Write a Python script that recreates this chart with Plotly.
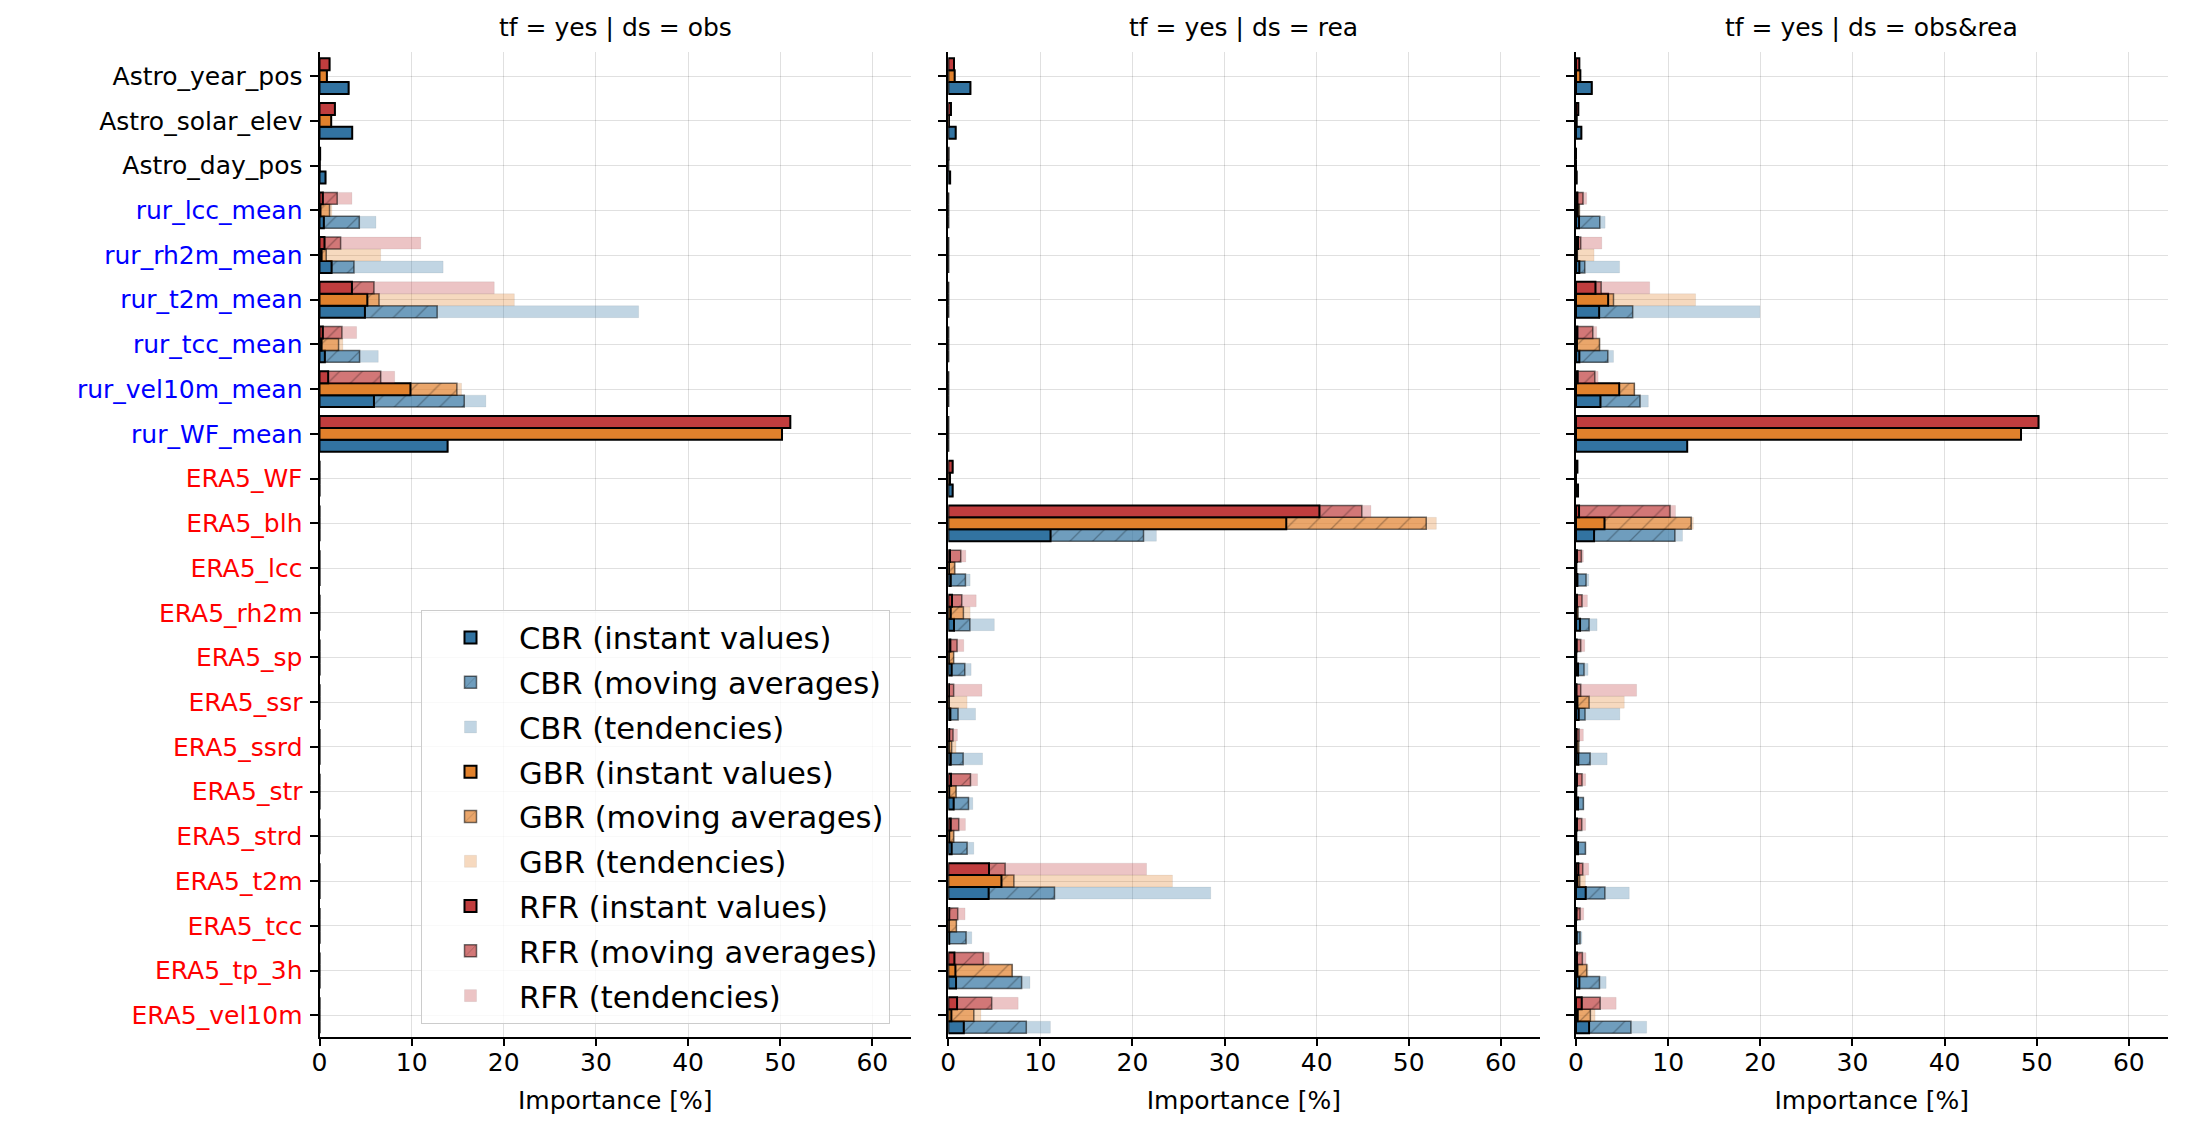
import numpy as np
import plotly.graph_objects as go

# feature names, top to bottom
features = ["Astro_year_pos", "Astro_solar_elev", "Astro_day_pos",
            "rur_lcc_mean", "rur_rh2m_mean", "rur_t2m_mean", "rur_tcc_mean",
            "rur_vel10m_mean", "rur_WF_mean",
            "ERA5_WF", "ERA5_blh", "ERA5_lcc", "ERA5_rh2m", "ERA5_sp", "ERA5_ssr",
            "ERA5_ssrd", "ERA5_str", "ERA5_strd", "ERA5_t2m", "ERA5_tcc",
            "ERA5_tp_3h", "ERA5_vel10m"]
label_colors = ["black"] * 3 + ["#0000ff"] * 6 + ["#ff0000"] * 13

panel_titles = ["tf = yes | ds = obs", "tf = yes | ds = rea", "tf = yes | ds = obs&rea"]
models = ["CBR", "GBR", "RFR"]
parts = ["instant values", "moving averages", "tendencies"]

# importance [%] per part  --- ds = obs
cbr_inst_obs = [3.16, 3.55, 0.65, 0.47, 1.31, 4.93, 0.58, 5.91, 13.9, 0, 0, 0, 0, 0, 0, 0, 0, 0, 0, 0, 0, 0]
cbr_ma_obs = [0, 0, 0, 3.85, 2.43, 7.84, 3.77, 9.8, 0, 0, 0, 0, 0, 0, 0, 0, 0, 0, 0, 0, 0, 0]
cbr_tend_obs = [0, 0, 0, 1.81, 9.68, 21.87, 2.03, 2.35, 0, 0, 0, 0, 0, 0, 0, 0, 0, 0, 0, 0, 0, 0]
gbr_inst_obs = [0.8, 1.27, 0.03, 0.1, 0.22, 5.19, 0.22, 9.87, 50.2, 0, 0, 0, 0, 0, 0, 0, 0, 0, 0, 0, 0, 0]
gbr_ma_obs = [0, 0, 0, 0.99, 0.51, 1.27, 1.85, 5.04, 0, 0, 0, 0, 0, 0, 0, 0, 0, 0, 0, 0, 0, 0]
gbr_tend_obs = [0, 0, 0, 0.25, 5.91, 14.69, 0.47, 0.51, 0, 0, 0, 0, 0, 0, 0, 0, 0, 0, 0, 0, 0, 0]
rfr_inst_obs = [1.09, 1.67, 0.07, 0.36, 0.54, 3.52, 0.36, 0.94, 51.1, 0, 0, 0, 0, 0, 0, 0, 0, 0, 0, 0, 0, 0]
rfr_ma_obs = [0, 0, 0, 1.56, 1.75, 2.39, 2.07, 5.7, 0, 0, 0, 0, 0, 0, 0, 0, 0, 0, 0, 0, 0, 0]
rfr_tend_obs = [0, 0, 0, 1.6, 8.7, 13.06, 1.6, 1.52, 0, 0, 0, 0, 0, 0, 0, 0, 0, 0, 0, 0, 0, 0]

# ds = rea
cbr_inst_rea = [2.4, 0.8, 0.2, 0, 0, 0, 0, 0, 0, 0.47, 11.1, 0.26, 0.62, 0.36, 0.22, 0.26, 0.58, 0.36, 4.38, 0.1, 0.84, 1.68]
cbr_ma_rea = [0, 0, 0, 0, 0, 0, 0, 0, 0, 0, 10.1, 1.6, 1.72, 1.43, 0.84, 1.35, 1.61, 1.68, 7.15, 1.83, 7.12, 6.79]
cbr_tend_rea = [0, 0, 0, 0, 0, 0, 0, 0, 0, 0, 1.4, 0.51, 2.66, 0.69, 1.9, 2.11, 0.47, 0.73, 16.97, 0.62, 0.91, 2.62]
gbr_inst_rea = [0.69, 0.07, 0, 0, 0, 0, 0, 0, 0, 0.18, 36.7, 0.07, 0.26, 0.05, 0.04, 0.04, 0.1, 0.1, 5.77, 0.05, 0.77, 0.33]
gbr_ma_rea = [0, 0, 0, 0, 0, 0, 0, 0, 0, 0, 15.2, 0.62, 1.38, 0.53, 0.06, 0.32, 0.74, 0.48, 1.35, 0.83, 6.16, 2.44]
gbr_tend_rea = [0, 0, 0, 0, 0, 0, 0, 0, 0, 0, 1.1, 0.08, 0.73, 0.04, 1.94, 0.48, 0.07, 0.08, 17.22, 0.03, 0.07, 0.77]
rfr_inst_rea = [0.62, 0.29, 0.02, 0, 0, 0, 0, 0, 0, 0.47, 40.3, 0.18, 0.4, 0.22, 0.07, 0.1, 0.29, 0.26, 4.42, 0.1, 0.66, 0.95]
rfr_ma_rea = [0, 0, 0, 0, 0, 0, 0, 0, 0, 0, 4.6, 1.17, 1.06, 0.73, 0.51, 0.41, 2.12, 0.87, 1.75, 0.92, 3.14, 3.76]
rfr_tend_rea = [0, 0, 0, 0, 0, 0, 0, 0, 0, 0, 1.0, 0.55, 1.57, 0.73, 3.07, 0.48, 0.77, 0.73, 15.36, 0.8, 0.65, 2.88]

# ds = obs&rea
cbr_inst_both = [1.71, 0.58, 0.07, 0.33, 0.36, 2.51, 0.36, 2.65, 12.07, 0.22, 1.96, 0.15, 0.44, 0.22, 0.29, 0.25, 0.22, 0.22, 1.05, 0.07, 0.36, 1.42]
cbr_ma_both = [0, 0, 0, 2.25, 0.59, 3.64, 3.09, 4.3, 0, 0, 8.77, 0.94, 0.98, 0.65, 0.69, 1.28, 0.58, 0.8, 2.08, 0.37, 2.19, 4.54]
cbr_tend_both = [0, 0, 0, 0.58, 3.78, 13.81, 0.62, 0.9, 0, 0, 0.83, 0.29, 0.87, 0.44, 3.78, 1.85, 0.07, 0.07, 2.65, 0.21, 0.72, 1.71]
gbr_inst_both = [0.47, 0.07, 0, 0.18, 0.07, 3.49, 0.1, 4.69, 48.3, 0, 3.09, 0.03, 0.05, 0.03, 0.15, 0.07, 0.03, 0.03, 0.15, 0, 0.15, 0.18]
gbr_ma_both = [0, 0, 0, 0.18, 0.08, 0.58, 2.45, 1.64, 0, 0, 9.41, 0.02, 0.17, 0, 1.27, 0.22, 0, 0, 0.25, 0, 1.01, 1.38]
gbr_tend_both = [0, 0, 0, 0.08, 1.81, 8.91, 0.07, 0.07, 0, 0, 0.23, 0, 0.04, 0, 3.82, 0.07, 0, 0, 0.62, 0, 0.15, 0.51]
rfr_inst_both = [0.36, 0.25, 0, 0.15, 0.22, 2.11, 0.15, 0.18, 50.2, 0.15, 0.33, 0.1, 0.1, 0.07, 0.05, 0.05, 0.1, 0.1, 0.25, 0.05, 0.1, 0.62]
rfr_ma_both = [0, 0, 0, 0.61, 0.29, 0.62, 1.67, 1.86, 0, 0, 9.87, 0.48, 0.55, 0.44, 0.46, 0.28, 0.55, 0.52, 0.48, 0.39, 0.59, 2.0]
rfr_tend_both = [0, 0, 0, 0.4, 2.29, 5.27, 0.43, 0.36, 0, 0, 0.6, 0.22, 0.59, 0.44, 6.07, 0.47, 0.4, 0.43, 0.65, 0.4, 0.4, 1.74]

panels = [
    {"CBR": [cbr_inst_obs, cbr_ma_obs, cbr_tend_obs],
     "GBR": [gbr_inst_obs, gbr_ma_obs, gbr_tend_obs],
     "RFR": [rfr_inst_obs, rfr_ma_obs, rfr_tend_obs]},
    {"CBR": [cbr_inst_rea, cbr_ma_rea, cbr_tend_rea],
     "GBR": [gbr_inst_rea, gbr_ma_rea, gbr_tend_rea],
     "RFR": [rfr_inst_rea, rfr_ma_rea, rfr_tend_rea]},
    {"CBR": [cbr_inst_both, cbr_ma_both, cbr_tend_both],
     "GBR": [gbr_inst_both, gbr_ma_both, gbr_tend_both],
     "RFR": [rfr_inst_both, rfr_ma_both, rfr_tend_both]},
]

# seaborn-style desaturated tab10 colours
model_rgb = {"CBR": (50, 115, 161), "GBR": (225, 129, 44), "RFR": (192, 61, 62)}
part_alpha = [1.0, 0.7, 0.3]
bar_h = 0.267
model_offset = {"CBR": bar_h, "GBR": 0.0, "RFR": -bar_h}

# page has an 8px body margin, so the figure is a bit smaller than the window
W, H = 2174, 1121
FONT = "DejaVu Sans"
x_dom_px = [(311.5, 903), (940.3, 1531.5), (1568, 2159.5)]
y_dom = [1 - 1028.7 / H, 1 - 44 / H]

pos = np.arange(len(features))
fig = go.Figure()

for p, data in enumerate(panels):
    ax = "" if p == 0 else str(p + 1)
    for m_i, model in enumerate(models):
        segs = [np.array(s, dtype=float) for s in data[model]]
        bases = [np.zeros(len(features)), segs[0], segs[0] + segs[1]]
        r, g, b = model_rgb[model]
        # draw tendencies first so the solid bars sit on top
        for k in [2, 1, 0]:
            fill = f"rgba({r},{g},{b},{part_alpha[k]})"
            if k == 0:
                line = dict(color="black", width=2)
                pattern = None
            elif k == 1:
                line = dict(color="rgba(0,0,0,0.55)", width=1.5)
                pattern = dict(shape="/", fillmode="overlay", fgcolor="rgba(0,0,0,0.55)",
                               size=16, solidity=0.08)
            else:
                line = dict(color="rgba(0,0,0,0.06)", width=1)
                pattern = None
            fig.add_trace(go.Bar(
                orientation="h",
                y=pos + model_offset[model],
                x=segs[k],
                base=bases[k],
                width=bar_h,
                marker=dict(color=fill, line=line, pattern=pattern),
                name=f"{model} ({parts[k]})",
                legendgroup=f"{model}{k}",
                legendrank=m_i * 3 + k,
                showlegend=(p == 0),
                xaxis="x" + ax, yaxis="y" + ax,
                hoverinfo="skip",
            ))

ticktext = [f"<span style='color:{c}'>{f}</span>" for f, c in zip(features, label_colors)]

layout = dict(
    width=W, height=H,
    margin=dict(l=0, r=0, t=0, b=0),
    paper_bgcolor="white", plot_bgcolor="white",
    barmode="overlay",
    font=dict(family=FONT, size=25, color="black"),
    legend=dict(x=413 / W, y=1 - 602 / H, xanchor="left", yanchor="top",
                bgcolor="rgba(255,255,255,0.8)", bordercolor="#cccccc", borderwidth=1,
                font=dict(size=30.6), traceorder="grouped", tracegroupgap=2, itemwidth=87),
    annotations=[],
)

for p in range(3):
    ax = "" if p == 0 else str(p + 1)
    x0, x1 = x_dom_px[p]
    layout["xaxis" + ax] = dict(
        domain=[x0 / W, x1 / W], range=[0, 64.2], anchor="y" + ax,
        tickvals=[0, 10, 20, 30, 40, 50, 60], ticks="outside", ticklen=7, tickwidth=2,
        tickcolor="black", showline=True, linecolor="black", linewidth=2,
        showgrid=True, gridcolor="rgba(0,0,0,0.12)", gridwidth=1.2, zeroline=False,
        tickfont=dict(size=25), automargin=False, ticklabelstandoff=-5,
        title=dict(text="Importance [%]", font=dict(size=25), standoff=16),
    )
    layout["yaxis" + ax] = dict(
        domain=y_dom, range=[21.48, -0.54], anchor="x" + ax,
        tickvals=list(pos), ticktext=ticktext, showticklabels=(p == 0),
        ticks="outside", ticklen=8, tickwidth=2, tickcolor="black",
        showline=True, linecolor="black", linewidth=2,
        showgrid=True, gridcolor="rgba(0,0,0,0.12)", gridwidth=1.2, zeroline=False,
        tickfont=dict(size=25), automargin=False, ticklabelstandoff=2,
    )
    layout["annotations"].append(dict(
        text=panel_titles[p], x=(x0 + x1) / 2 / W, y=1 - 20 / H, xref="paper", yref="paper",
        xanchor="center", yanchor="middle", showarrow=False, font=dict(size=25)))

fig.update_layout(**layout)
fig.write_html("out.html")
